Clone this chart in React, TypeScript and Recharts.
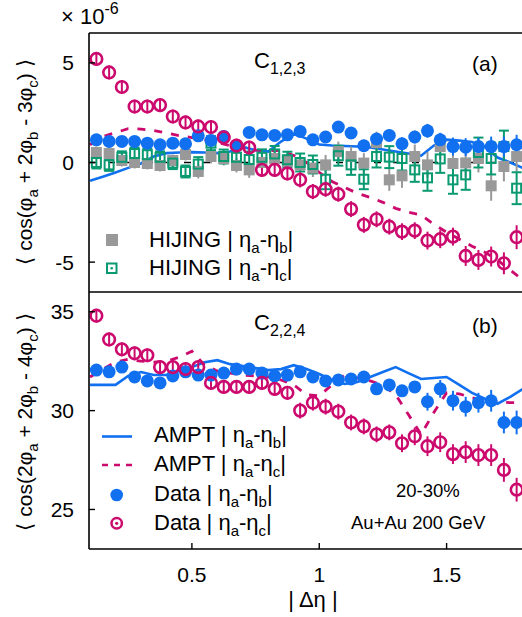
import React from 'react'
import { ComposedChart, Line, Scatter, ErrorBar, XAxis, YAxis, ReferenceLine } from 'recharts'

const FONT = '"Liberation Sans", Arial, Helvetica, sans-serif'
const BLUE = '#1070f0'
const MAGENTA = '#cc0a6e'
const GREEN = '#0a9a72'
const GRAY = '#999999'

// |Δη| bin centres of the measured points
const eta = [
  0.125, 0.175, 0.225, 0.275, 0.325, 0.375, 0.425, 0.475, 0.525, 0.575, 0.625, 0.675,
  0.725, 0.775, 0.825, 0.875, 0.925, 0.975, 1.025, 1.075, 1.125, 1.175, 1.225, 1.275,
  1.325, 1.375, 1.425, 1.475, 1.525, 1.575, 1.625, 1.675, 1.725, 1.775,
]
// AMPT curve grid
const amptEta = [
  0.1, 0.15, 0.2, 0.25, 0.3, 0.35, 0.4, 0.45, 0.5, 0.55, 0.6, 0.65, 0.7, 0.75, 0.8, 0.85,
  0.9, 0.95, 1.0, 1.05, 1.1, 1.15, 1.2, 1.25, 1.3, 1.35, 1.4, 1.45, 1.5, 1.55, 1.6, 1.65,
  1.7, 1.75, 1.8,
]

const xTicks = [0.5, 1, 1.5]
const topTicks = [-5, 0, 5]
const bottomTicks = [25, 30, 35]

// (a) C_{1,2,3}, units of 1e-6
const c123DataB = [
  1.14, 1.06, 1.06, 1.06, 0.97, 0.89, 0.97, 0.94, 1.34, 1.11, 1.31, 0.85, 1.51, 1.39, 1.36, 1.39,
  1.56, 1.14, 1.28, 1.78, 1.48, 0.84, 1.18, 1.36, 0.94, 1.28, 1.59, 1.14, 0.8, 0.77, 0.8, 0.8, 0.8, 0.89,
]
const c123DataBErr = [
  0.25, 0.25, 0.25, 0.25, 0.25, 0.25, 0.25, 0.25, 0.25, 0.25, 0.25, 0.25, 0.25, 0.25, 0.25, 0.25,
  0.28, 0.28, 0.28, 0.28, 0.3, 0.3, 0.3, 0.3, 0.32, 0.32, 0.35, 0.35, 0.45, 0.45, 0.45, 0.5, 0.5, 0.5,
]
const c123DataC = [
  5.2, 4.52, 3.79, 2.81, 2.81, 2.88, 2.31, 2.01, 1.81, 1.78, 1.26, 0.85, 0.75, -0.37, -0.37, -0.55,
  -0.87, -1.46, -1.34, -1.59, -2.34, -3.13, -2.85, -3.22, -3.47, -3.42, -3.92, -3.85, -3.72, -4.69,
  -4.89, -4.72, -5.06, -3.75,
]
const c123DataCErr = [
  0.35, 0.35, 0.35, 0.35, 0.35, 0.35, 0.35, 0.35, 0.35, 0.35, 0.35, 0.35, 0.35, 0.35, 0.35, 0.35,
  0.38, 0.38, 0.38, 0.38, 0.4, 0.4, 0.4, 0.4, 0.42, 0.42, 0.45, 0.45, 0.45, 0.5, 0.5, 0.5, 0.55, 0.6,
]
const c123HijingB = [
  0.5, 0.45, 0.1, 0.0, -0.05, -0.15, 0.1, 0.4, -0.45, 0.3, 0.2, -0.15, -0.37, 0.0, 0.2, 0.05,
  -0.12, -0.28, -0.12, 0.55, 0.3, -0.03, 1.0, -0.87, -0.67, 0.3, -0.12, 0.8, -0.05, -0.02, 0.2,
  -1.17, -0.2, 0.3,
]
const c123HijingBErr = [
  0.3, 0.3, 0.3, 0.3, 0.3, 0.3, 0.3, 0.3, 0.35, 0.35, 0.35, 0.35, 0.4, 0.4, 0.4, 0.4,
  0.45, 0.45, 0.5, 0.5, 0.5, 0.5, 0.55, 0.55, 0.6, 0.6, 0.65, 0.65, 0.7, 0.7, 0.7, 0.75, 0.75, 0.8,
]
const c123HijingC = [
  0.0, -0.12, 0.26, 0.45, 0.39, 0.26, -0.03, -0.45, -0.08, 0.97, 0.3, 0.26, 0.15, 0.26, 0.43, 0.14,
  0.0, -0.1, -0.84, 0.34, -0.12, -0.84, 0.3, 0.27, 0.2, -0.37, -0.77, 0.18, -0.87, -0.62, 0.5, 0.2,
  0.8, -1.29,
]
const c123HijingCErr = [
  0.3, 0.3, 0.3, 0.3, 0.3, 0.3, 0.3, 0.3, 0.35, 0.35, 0.35, 0.35, 0.4, 0.4, 0.4, 0.4,
  0.45, 0.45, 0.5, 0.5, 0.5, 0.5, 0.55, 0.55, 0.6, 0.6, 0.65, 0.7, 0.7, 0.75, 0.75, 0.8, 0.8, 0.8,
]
const c123AmptB = [
  -0.92, -0.72, -0.5, -0.27, -0.05, 0.3, 0.47, 0.5, 0.52, 0.5, 0.47, 0.55, 0.78, 0.62, 0.55, 1.05,
  1.45, 1.2, 0.9, 0.85, 0.83, 0.8, 0.75, 0.65, 0.55, 0.45, 0.34, 0.85, 1.15, 1.1, 1.03, 0.8, 0.25,
  0.0, -0.28,
]
const c123AmptC = [
  0.89, 1.3, 1.5, 1.7, 1.68, 1.6, 1.48, 1.35, 1.25, 1.15, 1.0, 0.85, 0.72, 0.62, 0.6, 0.6,
  0.35, 0.0, -0.5, -0.95, -1.25, -1.55, -1.75, -2.0, -2.3, -2.5, -2.63, -3.1, -3.5, -3.85, -4.2,
  -4.5, -4.9, -5.4, -5.9,
]

// (b) C_{2,2,4}
const c224DataB = [
  32.05, 31.96, 32.2, 31.7, 31.5, 31.4, 31.75, 31.96, 31.8, 31.8, 31.9, 32.1, 32.1, 31.9, 31.75,
  31.8, 31.96, 31.7, 31.5, 31.55, 31.6, 31.7, 31.1, 31.3, 31.0, 31.2, 30.45, 31.1, 30.5, 30.2, 30.4,
  30.5, 29.4, 29.4,
]
const c224DataBErr = [
  0.15, 0.15, 0.15, 0.15, 0.15, 0.15, 0.15, 0.15, 0.15, 0.15, 0.15, 0.15, 0.15, 0.15, 0.15, 0.15,
  0.25, 0.25, 0.25, 0.25, 0.25, 0.25, 0.3, 0.3, 0.3, 0.3, 0.45, 0.45, 0.5, 0.5, 0.5, 0.55, 0.55, 0.6,
]
const c224DataC = [
  34.8, 33.6, 33.1, 32.9, 32.8, 32.2, 32.2, 32.1, 32.2, 31.4, 31.2, 31.2, 31.2, 31.4, 31.1, 30.9,
  30.0, 30.4, 30.2, 29.95, 29.4, 29.2, 28.8, 28.9, 28.35, 28.7, 28.2, 28.4, 27.8, 27.9, 27.75,
  27.75, 27.0, 26.0,
]
const c224DataCErr = [
  0.35, 0.35, 0.35, 0.35, 0.35, 0.35, 0.35, 0.35, 0.35, 0.35, 0.35, 0.35, 0.35, 0.35, 0.35, 0.35,
  0.4, 0.4, 0.4, 0.4, 0.4, 0.4, 0.4, 0.4, 0.45, 0.45, 0.5, 0.5, 0.5, 0.55, 0.55, 0.55, 0.6, 0.6,
]
const c224AmptB = [
  31.3, 31.3, 31.3, 31.75, 31.95, 31.8, 31.8, 32.0, 32.2, 32.45, 32.55, 32.35, 32.25, 32.15, 32.05,
  32.1, 32.3, 32.1, 31.85, 31.55, 31.35, 31.45, 31.7, 31.95, 32.2, 31.9, 31.6, 31.65, 31.7, 31.3,
  30.9, 30.6, 30.35, 30.7, 31.1,
]
const c224AmptC = [
  31.7, 32.1, 32.45, 32.6, 32.5, 32.45, 32.5, 32.7, 33.0, 32.3, 32.0, 31.9, 31.8, 31.75, 31.7,
  31.55, 31.3, 30.8, 30.75, 31.3, 31.8, 31.65, 31.5, 31.3, 30.8, 29.8, 28.8, 29.9, 30.9, 30.85,
  30.65, 30.5, 30.45, 30.4, 30.4,
]

type Row = { x: number; y: number; e: number }
const toRows = (xs: number[], ys: number[], es?: number[]): Row[] =>
  xs.map((x, i) => ({ x, y: ys[i], e: es ? es[i] : 0 }))

const X_DOMAIN: [number, number] = [0.096, 1.8]
const TICK = 6
const LEFT_MARGIN = 15
const FS = 22
const SUB_FS = 15
const SUB_DY = 6

function LeftTick({ x, y, payload }: any) {
  return (
    <g>
      <line x1={x + LEFT_MARGIN} x2={x + LEFT_MARGIN + TICK} y1={y} y2={y} stroke="#000" strokeWidth={1.4} />
      <text x={x} y={y} dy="0.36em" textAnchor="end" fontSize={21} fontFamily={FONT} fill="#000">
        {payload.value}
      </text>
    </g>
  )
}

function RightTick({ x, y }: any) {
  return <line x1={x} x2={x - TICK} y1={y} y2={y} stroke="#000" strokeWidth={1.4} />
}

function BottomTick({ x, y, payload }: any) {
  return (
    <g>
      <line x1={x} x2={x} y1={y} y2={y - TICK} stroke="#000" strokeWidth={1.4} />
      <text x={x} y={y + 33} textAnchor="middle" fontSize={21} fontFamily={FONT} fill="#000">
        {payload.value}
      </text>
    </g>
  )
}

function TopTick({ x, y }: any) {
  return <line x1={x} x2={x} y1={y} y2={y + TICK} stroke="#000" strokeWidth={1.4} />
}

const blueDot = (p: any) => <circle cx={p.cx} cy={p.cy} r={6.5} fill={BLUE} />
const redRing = (p: any) => (
  <circle cx={p.cx} cy={p.cy} r={5.8} fill="none" stroke={MAGENTA} strokeWidth={2.6} />
)
const graySquare = (p: any) => <rect x={p.cx - 5.5} y={p.cy - 5.5} width={11} height={11} fill={GRAY} />
const greenSquare = (p: any) => (
  <rect x={p.cx - 4.5} y={p.cy - 4.5} width={9} height={9} fill="none" stroke={GREEN} strokeWidth={2} />
)

// text pieces: plain strings, or [string] for a subscript
type Piece = string | [string]
function Pieces({ parts }: { parts: Piece[] }) {
  let shifted = false
  return (
    <>
      {parts.map((p, i) => {
        if (Array.isArray(p)) {
          const dy = shifted ? 0 : SUB_DY
          shifted = true
          return (
            <tspan key={i} dy={dy} fontSize={SUB_FS}>
              {p[0]}
            </tspan>
          )
        }
        const dy = shifted ? -SUB_DY : 0
        shifted = false
        return (
          <tspan key={i} dy={dy}>
            {p}
          </tspan>
        )
      })}
    </>
  )
}

const etaLabel = (head: string, b: string): Piece[] => [head + ' | η', ['a'], '-η', [b], '|']

function Overlay() {
  return (
    <svg
      width={522}
      height={617}
      style={{ position: 'absolute', left: 0, top: 0, pointerEvents: 'none' }}
      fontFamily={FONT}
      fill="#000"
    >
      {/* frame */}
      <line x1={89} x2={522} y1={33} y2={33} stroke="#000" strokeWidth={1.6} />
      <line x1={89} x2={522} y1={292} y2={292} stroke="#000" strokeWidth={1.6} />
      <line x1={89} x2={522} y1={549} y2={549} stroke="#000" strokeWidth={1.6} />
      <line x1={89} x2={89} y1={33} y2={549} stroke="#000" strokeWidth={1.6} />

      {/* exponent */}
      <text x={61} y={24} fontSize={22}>
        <tspan>× 10</tspan>
        <tspan dy={-10} fontSize={16}>-6</tspan>
      </text>

      {/* y titles */}
      <text transform="rotate(-90)" x={-162} y={32} textAnchor="middle" fontSize={21}>
        <Pieces parts={['⟨ cos(φ', ['a'], ' + 2φ', ['b'], ' - 3φ', ['c'], ') ⟩']} />
      </text>
      <text transform="rotate(-90)" x={-422} y={32} textAnchor="middle" fontSize={21}>
        <Pieces parts={['⟨ cos(2φ', ['a'], ' + 2φ', ['b'], ' - 4φ', ['c'], ') ⟩']} />
      </text>

      {/* panel tags */}
      <text x={254} y={68} fontSize={22}>
        <tspan>C</tspan>
        <tspan dy={6} fontSize={16}>1,2,3</tspan>
      </text>
      <text x={472} y={71} fontSize={21}>(a)</text>
      <text x={254} y={330} fontSize={22}>
        <tspan>C</tspan>
        <tspan dy={6} fontSize={16}>2,2,4</tspan>
      </text>
      <text x={472} y={333} fontSize={21}>(b)</text>

      {/* legend (a) */}
      <rect x={106} y={234} width={12} height={12} fill={GRAY} />
      <text x={149} y={247} fontSize={FS}><Pieces parts={etaLabel('HIJING', 'b')} /></text>
      <rect x={107} y={263.5} width={9.5} height={9.5} fill="none" stroke={GREEN} strokeWidth={2} />
      <circle cx={111.7} cy={268.3} r={1.3} fill={GREEN} />
      <text x={149} y={275} fontSize={FS}><Pieces parts={etaLabel('HIJING', 'c')} /></text>

      {/* legend (b) */}
      <line x1={102} x2={132} y1={436.5} y2={436.5} stroke={BLUE} strokeWidth={2.6} />
      <text x={154} y={442} fontSize={FS}><Pieces parts={etaLabel('AMPT', 'b')} /></text>
      <line x1={102} x2={132} y1={465} y2={465} stroke={MAGENTA} strokeWidth={2.6} strokeDasharray="6 6" />
      <text x={154} y={471} fontSize={FS}><Pieces parts={etaLabel('AMPT', 'c')} /></text>
      <circle cx={116.7} cy={495} r={6.3} fill={BLUE} />
      <text x={154} y={501} fontSize={FS}><Pieces parts={etaLabel('Data', 'b')} /></text>
      <circle cx={116.7} cy={523.3} r={5.2} fill="none" stroke={MAGENTA} strokeWidth={2.5} />
      <circle cx={116.7} cy={523.3} r={1.6} fill={MAGENTA} />
      <text x={154} y={530} fontSize={FS}><Pieces parts={etaLabel('Data', 'c')} /></text>

      {/* notes */}
      <text x={396} y={497} fontSize={18.5}>20-30%</text>
      <text x={351} y={529} fontSize={18.5}>Au+Au 200 GeV</text>

      {/* x title */}
      <text x={313} y={607} textAnchor="middle" fontSize={22}>| Δη |</text>
    </svg>
  )
}

export default function App() {
  const topDataB = toRows(eta, c123DataB, c123DataBErr)
  const topDataC = toRows(eta, c123DataC, c123DataCErr)
  const topHijB = toRows(eta, c123HijingB, c123HijingBErr)
  const topHijC = toRows(eta, c123HijingC, c123HijingCErr)
  const topAmptB = toRows(amptEta, c123AmptB)
  const topAmptC = toRows(amptEta, c123AmptC)

  const botDataB = toRows(eta, c224DataB, c224DataBErr)
  const botDataC = toRows(eta, c224DataC, c224DataCErr)
  const botAmptB = toRows(amptEta, c224AmptB)
  const botAmptC = toRows(amptEta, c224AmptC)

  return (
    <div
      style={{
        position: 'fixed',
        left: 0,
        top: 0,
        width: 522,
        height: 617,
        overflow: 'hidden',
        background: '#fff',
      }}
    >
      <div style={{ position: 'absolute', left: 0, top: 0 }}>
        <ComposedChart width={540} height={300} margin={{ top: 33, right: 7, bottom: 8, left: 49 }}>
          <XAxis type="number" dataKey="x" domain={X_DOMAIN} allowDataOverflow hide />
          <YAxis
            type="number"
            domain={[-6.5, 6.5]}
            ticks={topTicks}
            allowDataOverflow
            width={40}
            axisLine={false}
            tickLine={false}
            tickSize={0}
            tickMargin={LEFT_MARGIN}
            tick={<LeftTick />}
          />
          <YAxis
            yAxisId="r"
            orientation="right"
            type="number"
            domain={[-6.5, 6.5]}
            ticks={topTicks}
            width={10}
            axisLine={false}
            tickLine={false}
            tickSize={0}
            tickMargin={0}
            tick={<RightTick />}
          />
          <ReferenceLine y={0} stroke="#000" strokeWidth={1.6} strokeDasharray="7 12" />
          <Line data={topAmptB} dataKey="y" type="linear" stroke={BLUE} strokeWidth={2.6} dot={false} isAnimationActive={false} />
          <Line data={topAmptC} dataKey="y" type="linear" stroke={MAGENTA} strokeWidth={2.8} strokeDasharray="8 9" dot={false} isAnimationActive={false} />
          <Scatter data={topHijB} dataKey="y" shape={graySquare} isAnimationActive={false}>
            <ErrorBar dataKey="e" direction="y" width={0} stroke={GRAY} strokeWidth={2} />
          </Scatter>
          <Scatter data={topHijC} dataKey="y" shape={greenSquare} isAnimationActive={false}>
            <ErrorBar dataKey="e" direction="y" width={5} stroke={GREEN} strokeWidth={2} />
          </Scatter>
          <Scatter data={topDataB} dataKey="y" shape={blueDot} isAnimationActive={false}>
            <ErrorBar dataKey="e" direction="y" width={0} stroke={BLUE} strokeWidth={2} />
          </Scatter>
          <Scatter data={topDataC} dataKey="y" shape={redRing} isAnimationActive={false}>
            <ErrorBar dataKey="e" direction="y" width={0} stroke={MAGENTA} strokeWidth={2} />
          </Scatter>
        </ComposedChart>
      </div>

      <div style={{ position: 'absolute', left: 0, top: 250 }}>
        <ComposedChart width={540} height={367} margin={{ top: 32, right: 7, bottom: 38, left: 49 }}>
          <XAxis
            type="number"
            dataKey="x"
            domain={X_DOMAIN}
            ticks={xTicks}
            allowDataOverflow
            height={30}
            axisLine={false}
            tickLine={false}
            tickSize={0}
            tickMargin={0}
            tick={<BottomTick />}
          />
          <XAxis
            xAxisId="top"
            orientation="top"
            type="number"
            domain={X_DOMAIN}
            ticks={xTicks}
            allowDataOverflow
            height={10}
            axisLine={false}
            tickLine={false}
            tickSize={0}
            tickMargin={0}
            tick={<TopTick />}
          />
          <YAxis
            type="number"
            domain={[23, 36]}
            ticks={bottomTicks}
            allowDataOverflow
            width={40}
            axisLine={false}
            tickLine={false}
            tickSize={0}
            tickMargin={LEFT_MARGIN}
            tick={<LeftTick />}
          />
          <YAxis
            yAxisId="r"
            orientation="right"
            type="number"
            domain={[23, 36]}
            ticks={bottomTicks}
            width={10}
            axisLine={false}
            tickLine={false}
            tickSize={0}
            tickMargin={0}
            tick={<RightTick />}
          />
          <Line data={botAmptB} dataKey="y" type="linear" stroke={BLUE} strokeWidth={2.6} dot={false} isAnimationActive={false} />
          <Line data={botAmptC} dataKey="y" type="linear" stroke={MAGENTA} strokeWidth={2.8} strokeDasharray="8 9" dot={false} isAnimationActive={false} />
          <Scatter data={botDataB} dataKey="y" shape={blueDot} isAnimationActive={false}>
            <ErrorBar dataKey="e" direction="y" width={0} stroke={BLUE} strokeWidth={2} />
          </Scatter>
          <Scatter data={botDataC} dataKey="y" shape={redRing} isAnimationActive={false}>
            <ErrorBar dataKey="e" direction="y" width={0} stroke={MAGENTA} strokeWidth={2} />
          </Scatter>
        </ComposedChart>
      </div>

      <Overlay />
    </div>
  )
}
